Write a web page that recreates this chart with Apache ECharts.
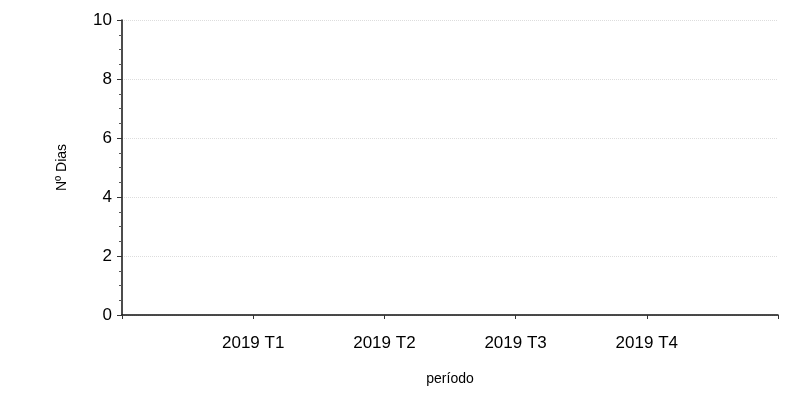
<!DOCTYPE html>
<html>
<head>
<meta charset="utf-8">
<script src="https://cdn.jsdelivr.net/npm/echarts@6/dist/echarts.min.js"></script>
<style>html,body{margin:0;padding:0;background:#fff}#c{width:798px;height:403px}</style>
</head>
<body>
<div id="c"></div>
<script>
const categories = ['', '2019 T1', '2019 T2', '2019 T3', '2019 T4', ''];
const diasValues = [null, 0, 0, 0, 0, null];
const yTicks = { min: 0, max: 10, interval: 2 };

const chart = echarts.init(document.getElementById('c'), null, { renderer: 'canvas' });
const font = 'Liberation Sans, Arial, sans-serif';
chart.setOption({
  animation: false,
  backgroundColor: '#fff',
  grid: { left: 122, right: 20, top: 20, bottom: 88 },
  xAxis: {
    type: 'category',
    data: categories,
    boundaryGap: false,
    name: 'período',
    nameLocation: 'middle',
    nameGap: 57,
    nameTextStyle: { color: '#000', fontSize: 14, fontFamily: font },
    axisLine: { lineStyle: { color: '#111', width: 1.5 } },
    axisTick: { show: true, length: 4, lineStyle: { color: '#333' } },
    axisLabel: { color: '#000', fontSize: 17, fontFamily: font, margin: 20 },
    splitLine: { show: false }
  },
  yAxis: {
    type: 'value',
    min: yTicks.min, max: yTicks.max, interval: yTicks.interval,
    name: 'Nº Dias',
    nameLocation: 'middle',
    nameGap: 53,
    nameTextStyle: { color: '#000', fontSize: 14, fontFamily: font },
    axisLine: { show: true, lineStyle: { color: '#111', width: 1.5 } },
    axisTick: { show: true, length: 5, lineStyle: { color: '#333' } },
    minorTick: { show: true, splitNumber: 4, length: 3, lineStyle: { color: '#555' } },
    axisLabel: { color: '#000', fontSize: 17, fontFamily: font, margin: 10 },
    splitLine: { show: true, lineStyle: { color: '#ddd', type: 'dotted', width: 1 } }
  },
  series: [{
    type: 'bar',
    data: diasValues,
    itemStyle: { color: '#333' },
    barWidth: 40
  }]
});
</script>
</body>
</html>
